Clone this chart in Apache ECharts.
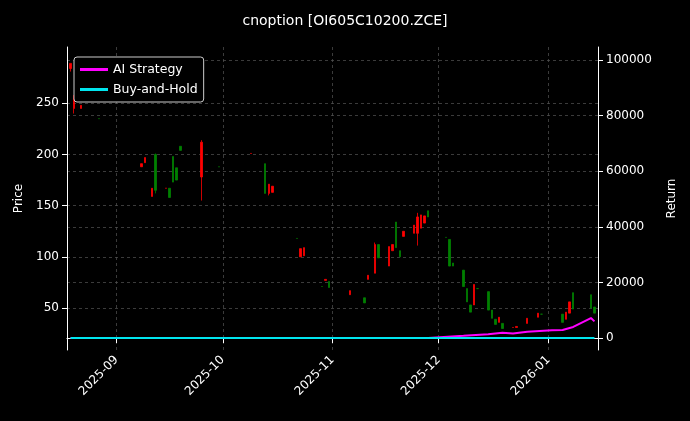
<!DOCTYPE html>
<html>
<head>
<meta charset="utf-8">
<script src="https://cdn.jsdelivr.net/npm/echarts@6/dist/echarts.min.js"></script>
<style>html,body{margin:0;background:#000}#main{width:690px;height:421px}</style>
</head>
<body>
<div id="main"></div>
<script>
// candles: date, open, close, low, high
const dates = ['2025-08-19','2025-08-20','2025-08-22','2025-08-27','2025-09-08','2025-09-09','2025-09-11','2025-09-12','2025-09-15','2025-09-16','2025-09-17','2025-09-18','2025-09-19','2025-09-25','2025-09-30','2025-10-09','2025-10-13','2025-10-14','2025-10-15','2025-10-22','2025-10-23','2025-10-24','2025-10-29','2025-10-30','2025-10-31','2025-11-06','2025-11-10','2025-11-11','2025-11-13','2025-11-14','2025-11-17','2025-11-18','2025-11-19','2025-11-20','2025-11-21','2025-11-24','2025-11-25','2025-11-26','2025-11-27','2025-11-28','2025-12-03','2025-12-04','2025-12-05','2025-12-08','2025-12-09','2025-12-10','2025-12-11','2025-12-12','2025-12-15','2025-12-16','2025-12-17','2025-12-18','2025-12-19','2025-12-22','2025-12-23','2025-12-26','2025-12-29','2025-12-30','2026-01-05','2026-01-06','2026-01-07','2026-01-08','2026-01-13','2026-01-14'];
const opens  = [284,245,245,235,188,192,159,200,167,167,198,187,208,178,188,201,191,162,163,118,100,101,71,77,76,63,60,78,84,112,91,106,134,106,120,123,123,128,133,145,119,117,94,87,69,53,53,69,66,48,39,36,35,31,31,35,41,44,44,39,45,65,63,51];
const closes = [289,255,248,235,191,197,167,165,167,158,173,175,204,212,188,201,162,171,169,118,108,109,71,78,70,67,55,82,112,99,110,112,109,100,125,131,139,141,140,139,119,91,91,71,56,46,73,69,48,40,34,41,30,31,32,40,45,44,36,46,56,49,50,45];
const lows   = [281,240,245,235,188,192,159,162,167,158,173,175,204,155,188,201,162,160,163,118,100,101,71,77,70,63,55,78,84,99,91,106,109,100,120,123,111,128,133,139,119,91,91,71,56,46,53,69,48,40,34,36,30,31,31,35,41,44,36,39,45,49,50,45];
const highs  = [289,258,248,235,191,197,167,201,167,167,198,187,208,214,188,201,191,171,169,118,108,109,71,78,76,67,60,82,114,112,110,112,134,106,125,131,143,141,140,145,119,117,94,87,69,53,73,69,66,48,39,41,35,31,32,40,45,44,44,46,56,65,63,51];

// returns
const retDates = ['2025-08-19','2025-11-28','2025-12-08','2025-12-15','2025-12-19','2025-12-22','2025-12-26','2026-01-02','2026-01-05','2026-01-08','2026-01-13','2026-01-14'];
const aiStrategy = [0,0,800,1400,1900,1600,2300,2800,2900,4000,7200,6000];
const buyHold    = [0,0,0,0,0,0,0,0,0,0,0,0];

const priceTicks = [50,100,150,200,250];
const returnTicks = [0,20000,40000,60000,80000,100000];

const chart = echarts.init(document.getElementById('main'));
const candles = dates.map((d, i) => [d, opens[i], closes[i], lows[i], highs[i]]);
const font = 'DejaVu Sans';
const grid = { color: '#555', type: [3, 3], width: 0.7 };

chart.setOption({
    backgroundColor: '#000',
    animation: false,
    textStyle: { fontFamily: font },
    title: {
        text: 'cnoption [OI605C10200.ZCE]',
        left: 'center', top: 9,
        textStyle: { color: '#fff', fontSize: 14, fontWeight: 'normal', fontFamily: font }
    },
    legend: {
        orient: 'vertical', left: 74, top: 57,
        backgroundColor: '#000', borderColor: '#ccc', borderWidth: 1, borderRadius: 3,
        padding: [6, 6], itemGap: 7, itemWidth: 28, itemHeight: 3,
        textStyle: { color: '#fff', fontSize: 12.5 },
        data: [
            { name: 'AI Strategy', icon: 'rect' },
            { name: 'Buy-and-Hold', icon: 'rect' }
        ]
    },
    grid: { left: 67, right: 92, top: 47, bottom: 71 },
    xAxis: {
        type: 'time',
        min: '2025-08-18', max: '2026-01-15',
        minInterval: 28 * 86400000, maxInterval: 31 * 86400000,
        axisLine: { lineStyle: { color: '#fff' } },
        axisTick: { lineStyle: { color: '#fff' } },
        axisLabel: { color: '#fff', rotate: 45, fontSize: 12, formatter: '{yyyy}-{MM}', hideOverlap: false },
        splitLine: { show: true, lineStyle: grid }
    },
    yAxis: [{
        type: 'value', min: 9, max: 305,
        name: 'Price', nameLocation: 'middle', nameGap: 42,
        nameTextStyle: { color: '#fff', fontSize: 12 },
        axisLine: { show: true, lineStyle: { color: '#fff' } },
        axisTick: { show: true, customValues: priceTicks, lineStyle: { color: '#fff' } },
        axisLabel: { color: '#fff', fontSize: 12, customValues: priceTicks },
        splitLine: { show: true, lineStyle: grid }
    }, {
        type: 'value', min: -4300, max: 104700,
        name: 'Return', nameLocation: 'middle', nameGap: 68, nameRotate: 90,
        nameTextStyle: { color: '#fff', fontSize: 12 },
        axisLine: { show: true, lineStyle: { color: '#fff' } },
        axisTick: { show: true, customValues: returnTicks, lineStyle: { color: '#fff' } },
        axisLabel: { color: '#fff', fontSize: 12, customValues: returnTicks, formatter: v => String(v) },
        splitLine: { show: true, lineStyle: grid }
    }],
    series: [{
        type: 'candlestick',
        data: candles,
        barMaxWidth: 2,
        itemStyle: { color: '#ff0000', color0: '#008000', borderColor: '#ff0000', borderColor0: '#008000', borderWidth: 0.8 }
    }, {
        name: 'AI Strategy', type: 'line', yAxisIndex: 1, showSymbol: false,
        data: retDates.map((d, i) => [d, aiStrategy[i]]),
        lineStyle: { color: '#ff00ff', width: 2 }, itemStyle: { color: '#ff00ff' }
    }, {
        name: 'Buy-and-Hold', type: 'line', yAxisIndex: 1, showSymbol: false,
        data: retDates.map((d, i) => [d, buyHold[i]]),
        lineStyle: { color: '#00e5ee', width: 2 }, itemStyle: { color: '#00e5ee' }
    }]
});
</script>
</body>
</html>
